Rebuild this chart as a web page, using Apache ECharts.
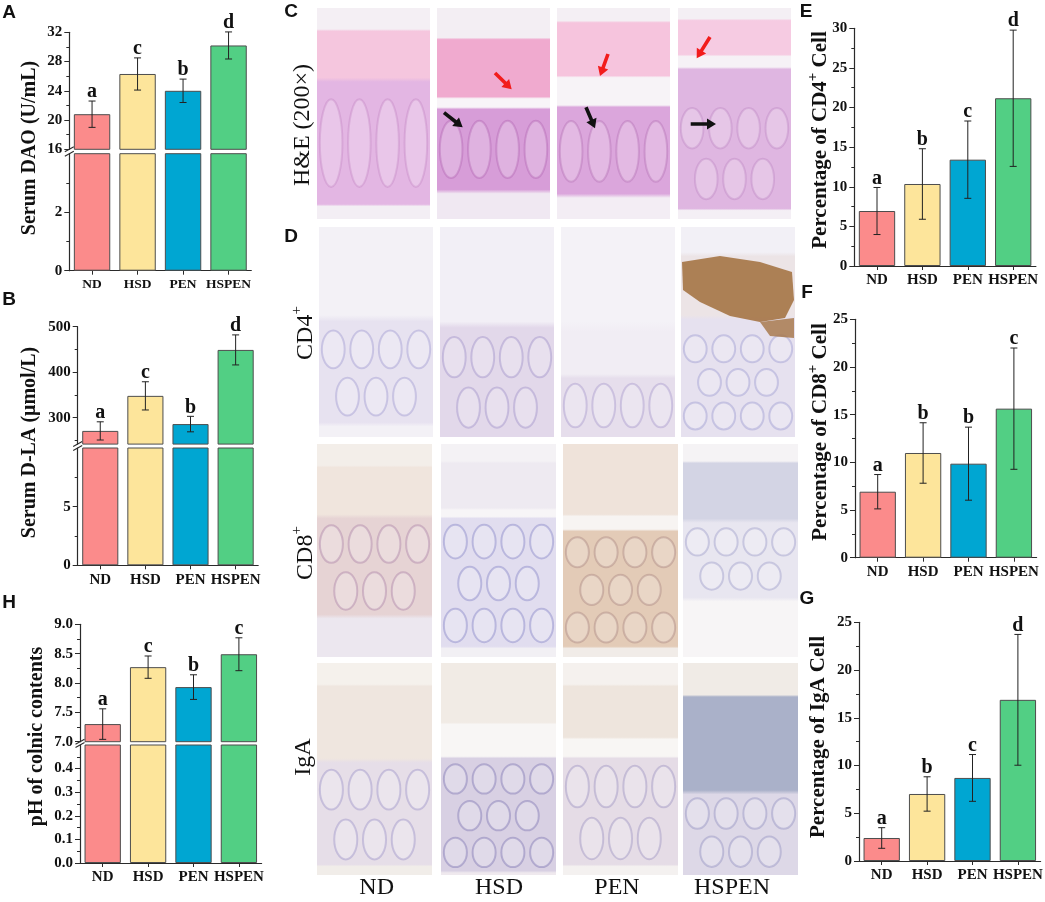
<!DOCTYPE html>
<html><head><meta charset="utf-8">
<script src="https://cdn.jsdelivr.net/npm/echarts@6/dist/echarts.min.js"></script>
<style>html,body{margin:0;padding:0;background:#fff}#c{width:1045px;height:902px}</style>
</head><body><div id="c"></div>
<script>
// ---------------- data ----------------
const categories = ['ND', 'HSD', 'PEN', 'HSPEN'];
const barColors = ['#fb8b8b', '#fde59b', '#00a6d2', '#52cf84'];

// A: Serum DAO (U/mL)
const daoMean = [20.8, 26.3, 24.0, 30.2];
const daoErr = [1.8, 2.2, 1.6, 1.85];
const daoLetters = ['a', 'c', 'b', 'd'];
const daoTicksUpper = [16, 20, 24, 28, 32];
const daoMinorUpper = [18, 22, 26, 30];
const daoTicksLower = [0, 2];
const daoMinorLower = [1, 3];

// B: Serum D-LA (umol/L)
const dlaMean = [271, 348, 286, 449];
const dlaErr = [20, 31, 17, 33];
const dlaLetters = ['a', 'c', 'b', 'd'];
const dlaTicksUpper = [300, 400, 500];
const dlaMinorUpper = [250, 350, 450];
const dlaTicksLower = [0, 5];
const dlaMinorLower = [2.5, 7.5];

// H: pH of colnic contents
const phMean = [7.30, 8.27, 7.93, 8.49];
const phErr = [0.26, 0.19, 0.21, 0.28];
const phLetters = ['a', 'c', 'b', 'c'];
const phTicksUpper = [7.0, 7.5, 8.0, 8.5, 9.0];
const phMinorUpper = [7.25, 7.75, 8.25, 8.75];
const phTicksLower = [0.0, 0.1, 0.2, 0.3, 0.4];
const phMinorLower = [0.05, 0.15, 0.25, 0.35, 0.45];

// E: CD4+
const cd4Mean = [6.94, 10.35, 13.42, 21.17];
const cd4Err = [2.97, 4.45, 4.88, 8.6];
const cd4Letters = ['a', 'b', 'c', 'd'];
const cd4Ticks = [0, 5, 10, 15, 20, 25, 30];
const cd4Minor = [2.5, 7.5, 12.5, 17.5, 22.5, 27.5];

// F: CD8+
const cd8Mean = [6.92, 10.98, 9.86, 15.63];
const cd8Err = [1.8, 3.17, 3.83, 6.36];
const cd8Letters = ['a', 'b', 'b', 'c'];
const cd8Ticks = [0, 5, 10, 15, 20, 25];
const cd8Minor = [2.5, 7.5, 12.5, 17.5, 22.5];

// G: IgA
const igaMean = [2.41, 7.02, 8.70, 16.88];
const igaErr = [1.08, 1.8, 2.45, 6.85];
const igaLetters = ['a', 'b', 'c', 'd'];
const igaTicks = [0, 5, 10, 15, 20, 25];
const igaMinor = [2.5, 7.5, 12.5, 17.5, 22.5];

// ---------------- styling ----------------
const SERIF = "'Liberation Serif','Times New Roman',serif";
const SANS = "'Liberation Sans',Arial,sans-serif";
const AX = '#2a2a2a';

const grids = [], xAxes = [], yAxes = [], series = [], graphics = [];

function addSub(c) {
  const gi = grids.length;
  grids.push({ left: c.left, top: c.top, width: c.width, height: c.bottom - c.top, outerBoundsMode: 'none', containLabel: false });
  xAxes.push({
    gridIndex: gi, type: 'category', data: categories, show: !!c.showX,
    axisLine: { show: true, onZero: false, lineStyle: { color: AX, width: 1.2 } },
    axisTick: { show: true, alignWithLabel: true, interval: 0, length: 4, lineStyle: { color: AX } },
    axisLabel: { interval: 0, hideOverlap: false, fontFamily: SERIF, fontWeight: 'bold', fontSize: c.xFont || 15, color: '#111', margin: 7 }
  });
  const yi = yAxes.length;
  yAxes.push({
    gridIndex: gi, type: 'value', min: c.min, max: c.max, position: 'left',
    axisLine: { show: true, lineStyle: { color: AX, width: 1.2 } },
    axisTick: { show: true, length: 5, customValues: c.ticks, lineStyle: { color: AX } },
    axisLabel: { customValues: c.ticks, formatter: c.fmt, hideOverlap: false, fontFamily: SERIF, fontWeight: 'bold', fontSize: c.yFont || 15, color: '#111', margin: 7 },
    splitLine: { show: false }
  });
  yAxes.push({
    gridIndex: gi, type: 'value', min: c.min, max: c.max, position: 'left',
    axisLine: { show: false },
    axisTick: { show: true, length: 3, customValues: c.minor, lineStyle: { color: AX } },
    axisLabel: { show: false }, splitLine: { show: false }
  });
  return { xi: gi, yi: yi };
}

function addBars(ax, mean) {
  series.push({
    type: 'bar', xAxisIndex: ax.xi, yAxisIndex: ax.yi, clip: true, silent: true,
    barWidth: '80%',
    itemStyle: { borderColor: '#4d4d4d', borderWidth: 1 },
    data: mean.map((v, i) => ({ value: v, itemStyle: { color: barColors[i] } }))
  });
}

function addErr(ax, mean, err, letters, lsize) {
  series.push({
    type: 'custom', xAxisIndex: ax.xi, yAxisIndex: ax.yi, silent: true, z: 5,
    data: mean.map((m, i) => [i, m, err[i]]),
    renderItem: function (p, api) {
      const i = api.value(0), m = api.value(1), e = api.value(2);
      const t = api.coord([i, m + e]), b = api.coord([i, m - e]);
      const hw = 3.5;
      const st = { stroke: '#222', lineWidth: 1 };
      return {
        type: 'group', children: [
          { type: 'line', shape: { x1: t[0], y1: t[1], x2: b[0], y2: b[1] }, style: st },
          { type: 'line', shape: { x1: t[0] - hw, y1: t[1], x2: t[0] + hw, y2: t[1] }, style: st },
          { type: 'line', shape: { x1: b[0] - hw, y1: b[1], x2: b[0] + hw, y2: b[1] }, style: st },
          { type: 'text', x: t[0], y: t[1] + 1, style: { text: letters[p.dataIndex], font: 'bold ' + (lsize || 20) + 'px ' + SERIF, fill: '#111', align: 'center', verticalAlign: 'bottom', textAlign: 'center', textVerticalAlign: 'bottom' } }
        ]
      };
    }
  });
}

function breakMarks(x, yTop, yBot) {
  [yTop, yBot].forEach(y => graphics.push({ type: 'line', shape: { x1: x - 4.5, y1: y + 2.5, x2: x + 4.5, y2: y - 2.5 }, style: { stroke: AX, lineWidth: 1.1 } }));
}

function brokenPanel(p) {
  const up = addSub({ left: p.left, width: p.width, top: p.up.top, bottom: p.up.bottom, min: p.up.min, max: p.up.max, ticks: p.up.ticks, minor: p.up.minor, fmt: p.fmt, yFont: p.yFont });
  const lo = addSub({ left: p.left, width: p.width, top: p.lo.top, bottom: p.lo.bottom, min: p.lo.min, max: p.lo.max, ticks: p.lo.ticks, minor: p.lo.minor, fmt: p.fmt, showX: true, xFont: p.xFont, yFont: p.yFont });
  addBars(up, p.mean); addBars(lo, p.mean);
  addErr(up, p.mean, p.err, p.letters);
  breakMarks(p.left, p.up.bottom, p.lo.top);
}

function simplePanel(p) {
  const ax = addSub({ left: p.left, width: p.width, top: p.top, bottom: p.bottom, min: p.min, max: p.max, ticks: p.ticks, minor: p.minor, fmt: p.fmt, showX: true, xFont: p.xFont, yFont: p.yFont });
  addBars(ax, p.mean);
  addErr(ax, p.mean, p.err, p.letters);
}

const intFmt = v => String(Math.round(v));
const oneDec = v => Number(v).toFixed(1);

brokenPanel({ left: 69.3, width: 182, mean: daoMean, err: daoErr, letters: daoLetters, fmt: intFmt, xFont: 13.5, yFont: 15,
  up: { top: 32.3, bottom: 149.3, min: 16, max: 32, ticks: daoTicksUpper, minor: daoMinorUpper },
  lo: { top: 153.7, bottom: 270.7, min: 0, max: 4, ticks: daoTicksLower, minor: daoMinorLower } });

brokenPanel({ left: 77.7, width: 180.5, mean: dlaMean, err: dlaErr, letters: dlaLetters, fmt: intFmt, xFont: 15, yFont: 15,
  up: { top: 326.7, bottom: 444.1, min: 242, max: 500, ticks: dlaTicksUpper, minor: dlaMinorUpper },
  lo: { top: 448, bottom: 565.3, min: 0, max: 10, ticks: dlaTicksLower, minor: dlaMinorLower } });

brokenPanel({ left: 80, width: 181.6, mean: phMean, err: phErr, letters: phLetters, fmt: oneDec, xFont: 15, yFont: 15,
  up: { top: 624.3, bottom: 741.7, min: 7, max: 9, ticks: phTicksUpper, minor: phMinorUpper },
  lo: { top: 745, bottom: 863, min: 0, max: 0.5, ticks: phTicksLower, minor: phMinorLower } });

simplePanel({ left: 854.3, width: 181.6, top: 28.3, bottom: 266, min: 0, max: 30, ticks: cd4Ticks, minor: cd4Minor, fmt: intFmt, mean: cd4Mean, err: cd4Err, letters: cd4Letters, xFont: 15, yFont: 15 });
simplePanel({ left: 855, width: 181.6, top: 319.3, bottom: 557.7, min: 0, max: 25, ticks: cd8Ticks, minor: cd8Minor, fmt: intFmt, mean: cd8Mean, err: cd8Err, letters: cd8Letters, xFont: 15, yFont: 15 });
simplePanel({ left: 859, width: 181.6, top: 622.3, bottom: 861, min: 0, max: 25, ticks: igaTicks, minor: igaMinor, fmt: intFmt, mean: igaMean, err: igaErr, letters: igaLetters, xFont: 15, yFont: 15 });

// ---------------- texts ----------------
function txt(x, y, text, font, rot, extra) {
  const el = { type: 'text', x: x, y: y, rotation: rot || 0, z: 10,
    style: Object.assign({ text: text, font: font, fill: '#111', align: 'center', verticalAlign: 'middle', textAlign: 'center', textVerticalAlign: 'middle' }, extra || {}) };
  graphics.push(el);
}
const R90 = Math.PI / 2;
const panelFont = 'bold 19px ' + SANS;
txt(9, 13, 'A', panelFont); txt(9, 300, 'B', panelFont); txt(9, 603, 'H', panelFont);
txt(291, 12, 'C', panelFont); txt(291, 237, 'D', panelFont);
txt(806, 12, 'E', panelFont); txt(807, 293, 'F', panelFont); txt(807, 599, 'G', panelFont);

const nameFont = 'bold 20px ' + SERIF;
txt(29.5, 148, 'Serum DAO (U/mL)', nameFont, R90);
txt(29.5, 442.5, 'Serum D-LA (\u03bcmol/L)', nameFont, R90);
txt(36.5, 736.5, 'pH of colnic contents', nameFont, R90);
const supRich = {
  n: { fontFamily: SERIF, fontWeight: 'bold', fontSize: 21, lineHeight: 26, verticalAlign: 'bottom' },
  s: { fontFamily: SERIF, fontWeight: 'bold', fontSize: 15, lineHeight: 15, verticalAlign: 'top' }
};
txt(818.5, 140, '{n|Percentage of CD4}{s|+}{n| Cell}', null, R90, { rich: supRich });
txt(818.5, 432, '{n|Percentage of CD8}{s|+}{n| Cell}', null, R90, { rich: supRich });
txt(818.5, 737, 'Percentage of IgA Cell', 'bold 21px ' + SERIF, R90);

const rowRich = {
  n: { fontFamily: SERIF, fontSize: 24, lineHeight: 28, verticalAlign: 'bottom' },
  s: { fontFamily: SERIF, fontSize: 15, lineHeight: 15, verticalAlign: 'top' }
};
txt(303, 125, 'H&E (200\u00d7)', '24px ' + SERIF, R90);
txt(303.5, 333, '{n|CD4}{s|+}', null, R90, { rich: rowRich });
txt(303.5, 553, '{n|CD8}{s|+}', null, R90, { rich: rowRich });
txt(303.5, 757, 'IgA', '24px ' + SERIF, R90);

const colNames = ['ND', 'HSD', 'PEN', 'HSPEN'];
const colNameX = [376.7, 499, 617, 732];
colNames.forEach((n, i) => txt(colNameX[i], 888, n, '24px ' + SERIF));

// ---------------- micrograph placeholders ----------------
function bandFill(bands) {
  const stops = [];
  bands.forEach(b => { stops.push({ offset: b[0], color: b[2] }); stops.push({ offset: b[1], color: b[2] }); });
  return { type: 'linear', x: 0, y: 0, x2: 0, y2: 1, colorStops: stops };
}
const rowsLayout = [
  { y: 8, h: 211, xs: [317, 437, 557, 678], w: 113 },
  { y: 227, h: 210, xs: [319, 440, 561, 681], w: 114 },
  { y: 444, h: 213, xs: [317, 441, 563, 683], w: 115 },
  { y: 663, h: 212, xs: [317, 441, 563, 683], w: 115 }
];
const tissueBands = [
  [ // H&E
    [[0, .1, '#f4eff4'], [.11, .33, '#f5c6de'], [.35, .93, '#e3b6e3'], [.94, 1, '#f3eef4']],
    [[0, .14, '#f3eef3'], [.15, .42, '#f0aacf'], [.43, .47, '#f8f4f8'], [.48, .86, '#d79dd8'], [.88, 1, '#f0e8f2']],
    [[0, .06, '#f4eff4'], [.07, .32, '#f6c4dd'], [.33, .46, '#f7f3f7'], [.47, .88, '#dba6dc'], [.9, 1, '#f3edf4']],
    [[0, .05, '#f4eff4'], [.06, .22, '#f6cbe2'], [.23, .28, '#f6f1f6'], [.29, .95, '#dfb6e1'], [.96, 1, '#f4eff5']]
  ],
  [ // CD4
    [[0, .42, '#f3f1f6'], [.45, .93, '#e7e2f0'], [.95, 1, '#f3f1f6']],
    [[0, .45, '#f2eff6'], [.48, 1, '#e2d8ea']],
    [[0, .45, '#f4f2f7'], [.5, .7, '#f1edf4'], [.72, 1, '#e6deec']],
    [[0, .12, '#f2f0f6'], [.14, .42, '#ece4e6'], [.44, 1, '#e6e1ef']]
  ],
  [ // CD8
    [[0, .1, '#f3eee9'], [.11, .33, '#f0e5dd'], [.35, .8, '#e6d3d4'], [.82, 1, '#ece7ef']],
    [[0, .08, '#f4f2f5'], [.09, .3, '#eeeaf1'], [.31, .34, '#f7f5f7'], [.35, .95, '#e1ddef'], [.96, 1, '#f2f0f4']],
    [[0, .33, '#efe3da'], [.34, .4, '#f7f4f2'], [.41, .95, '#e3cbb7'], [.96, 1, '#f1ece8']],
    [[0, .08, '#f5f3f5'], [.09, .35, '#d3d4e4'], [.37, .72, '#e8e6f0'], [.74, 1, '#f7f5f6']]
  ],
  [ // IgA
    [[0, .1, '#f5f1ec'], [.11, .45, '#efe6df'], [.47, .95, '#e6dee8'], [.96, 1, '#f1ede9']],
    [[0, .28, '#f1ebe5'], [.29, .44, '#f8f6f5'], [.45, .98, '#d8d0e3'], [.99, 1, '#efe9ee']],
    [[0, .1, '#f5f1ee'], [.11, .35, '#eee5dd'], [.36, .44, '#f8f6f4'], [.45, .95, '#e5dce6'], [.96, 1, '#f4f1f0']],
    [[0, .15, '#f0ebe6'], [.16, .6, '#aab1c9'], [.62, 1, '#ddd8e7']]
  ]
];
// crypt texture: [bandStart, bandEnd, rows, strokeColor]
const crypts = [
  [[.38, .9, 1, 'rgba(170,90,170,0.22)'], [.5, .84, 1, 'rgba(150,60,150,0.25)'], [.5, .86, 1, 'rgba(150,70,150,0.25)'], [.45, .93, 2, 'rgba(160,90,170,0.22)']],
  [[.47, .92, 2, 'rgba(120,110,190,0.28)'], [.5, .98, 2, 'rgba(120,100,180,0.28)'], [.72, .98, 1, 'rgba(120,100,180,0.25)'], [.5, .98, 3, 'rgba(110,110,190,0.28)']],
  [[.36, .8, 2, 'rgba(150,100,150,0.32)'], [.36, .95, 3, 'rgba(90,90,180,0.3)'], [.42, .95, 3, 'rgba(150,110,110,0.32)'], [.38, .7, 2, 'rgba(100,100,170,0.25)']],
  [[.48, .95, 2, 'rgba(110,100,180,0.28)'], [.46, .98, 3, 'rgba(90,80,160,0.32)'], [.46, .95, 2, 'rgba(110,100,170,0.28)'], [.62, .98, 2, 'rgba(100,100,170,0.28)']]
];
rowsLayout.forEach((row, r) => {
  row.xs.forEach((x0, c) => {
    graphics.push({ type: 'rect', z: 1, shape: { x: x0, y: row.y, width: row.w, height: row.h }, style: { fill: bandFill(tissueBands[r][c]) } });
    const cr = crypts[r][c];
    const by0 = row.y + row.h * cr[0], bh = row.h * (cr[1] - cr[0]), nr = cr[2];
    for (let k = 0; k < nr; k++) {
      const ncol = 4;
      for (let j = 0; j < ncol; j++) {
        const shift = (k % 2) ? row.w / 8 : 0;
        const cx = x0 + (j + 0.5) * row.w / ncol + shift;
        if (cx > x0 + row.w - 8) continue;
        const cy = by0 + (k + 0.5) * bh / nr;
        graphics.push({ type: 'ellipse', z: 2, shape: { cx: cx, cy: cy, rx: row.w / 10, ry: bh / nr * 0.4 },
          style: { fill: 'rgba(255,255,255,0.22)', stroke: cr[3], lineWidth: 2 } });
      }
    }
  });
});
// brown CD4+ infiltrate in HSPEN
graphics.push({ type: 'polygon', z: 3, shape: { points: [[682, 262], [720, 256], [760, 262], [792, 272], [794, 300], [785, 318], [760, 322], [730, 316], [700, 302], [683, 290]] },
  style: { fill: '#a57445', opacity: 0.9 } });
graphics.push({ type: 'polygon', z: 3, shape: { points: [[760, 322], [794, 318], [794, 338], [770, 336]] }, style: { fill: '#a57445', opacity: 0.8 } });

function arrow(x1, y1, x2, y2, color) {
  const dx = x2 - x1, dy = y2 - y1, L = Math.hypot(dx, dy), ux = dx / L, uy = dy / L, px = -uy, py = ux;
  const hl = 9, hw = 5.5, sw = 1.8;
  const bx = x2 - ux * hl, by = y2 - uy * hl;
  return { type: 'polygon', z: 6, shape: { points: [
    [x1 + px * sw, y1 + py * sw], [bx + px * sw, by + py * sw], [bx + px * hw, by + py * hw], [x2, y2],
    [bx - px * hw, by - py * hw], [bx - px * sw, by - py * sw], [x1 - px * sw, y1 - py * sw]] }, style: { fill: color } };
}
const RED = '#f21c1c', BLK = '#111';
graphics.push(arrow(495, 73, 511.7, 89.3, RED));
graphics.push(arrow(608, 54, 600, 76, RED));
graphics.push(arrow(710, 37, 696.7, 58.3, RED));
graphics.push(arrow(444, 112.7, 462.7, 127.3, BLK));
graphics.push(arrow(586, 107.3, 595, 128.3, BLK));
graphics.push(arrow(690.7, 124, 716, 124, BLK));

const chart = echarts.init(document.getElementById('c'), null, { renderer: 'canvas' });
chart.setOption({
  animation: false,
  backgroundColor: '#ffffff',
  grid: grids, xAxis: xAxes, yAxis: yAxes, series: series,
  graphic: { elements: graphics }
});
</script>
</body></html>
